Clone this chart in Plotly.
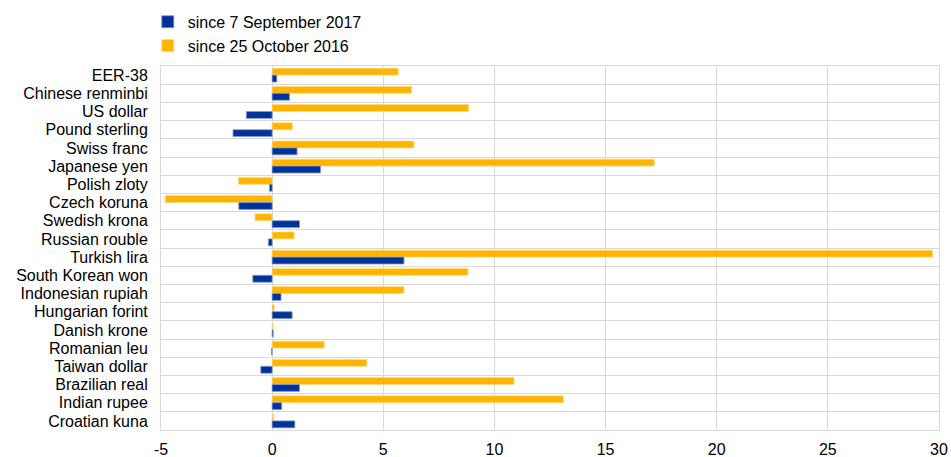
import plotly.graph_objects as go

categories = ["EER-38", "Chinese renminbi", "US dollar", "Pound sterling", "Swiss franc",
              "Japanese yen", "Polish zloty", "Czech koruna", "Swedish krona", "Russian rouble",
              "Turkish lira", "South Korean won", "Indonesian rupiah", "Hungarian forint",
              "Danish krone", "Romanian leu", "Taiwan dollar", "Brazilian real", "Indian rupee",
              "Croatian kuna"]

since_sep_2017 = [0.21, 0.78, -1.16, -1.76, 1.12, 2.18, -0.12, -1.50, 1.23, -0.17,
                  5.93, -0.87, 0.40, 0.90, 0.05, -0.03, -0.51, 1.23, 0.43, 1.02]

since_oct_2016 = [5.67, 6.27, 8.84, 0.91, 6.38, 17.19, -1.52, -4.81, -0.77, 0.99,
                  29.71, 8.81, 5.93, 0.09, 0.04, 2.34, 4.26, 10.88, 13.10, 0.06]

x_ticks = [-5, 0, 5, 10, 15, 20, 25, 30]

BLUE = "#003299"
YELLOW = "#FFB400"
FONT = "Liberation Sans, Arial, sans-serif"

fig = go.Figure()
fig.add_trace(go.Bar(
    y=categories, x=since_oct_2016, orientation="h", name="since 25 October 2016",
    marker=dict(color=YELLOW, line=dict(color="#FFD97F", width=0.8)), legendrank=2,
))
fig.add_trace(go.Bar(
    y=categories, x=since_sep_2017, orientation="h", name="since 7 September 2017",
    marker=dict(color=BLUE, line=dict(color="#7F99CC", width=0.8)), legendrank=1,
))

fig.update_layout(
    width=951, height=457,
    margin=dict(l=161, r=12, t=66, b=27, autoexpand=False),
    paper_bgcolor="white", plot_bgcolor="white",
    barmode="group", bargap=0.24, bargroupgap=0,
    font=dict(family=FONT, size=16, color="#000000"),
    showlegend=True,
    legend=dict(x=-0.017, y=1.168, xanchor="left", yanchor="top",
                font=dict(family=FONT, size=16, color="#000000"),
                bgcolor="rgba(0,0,0,0)", tracegroupgap=0, itemwidth=30),
)
fig.update_xaxes(
    range=[-5, 30], tickvals=x_ticks, ticktext=[str(v) for v in x_ticks],
    showgrid=True, gridcolor="#D9D9D9", gridwidth=1, automargin=False,
    zeroline=False, showline=True, linecolor="#D9D9D9", linewidth=1, mirror=True,
    ticks="outside", ticklen=5, tickcolor="rgba(0,0,0,0)",
    tickfont=dict(family=FONT, size=16, color="#000000"),
)
fig.update_yaxes(
    type="category", autorange="reversed", tickson="boundaries",
    tickmode="array", tickvals=categories, automargin=False,
    showgrid=True, gridcolor="#D9D9D9", gridwidth=1,
    showline=True, linecolor="#D9D9D9", linewidth=1, mirror=True,
    ticks="", ticklabelstandoff=9,
    tickfont=dict(family=FONT, size=16, color="#000000"),
)

fig.write_html(
    "out.html",
    config={"displayModeBar": False},
    post_script="document.body.style.margin='0';document.body.style.overflow='hidden';",
)
